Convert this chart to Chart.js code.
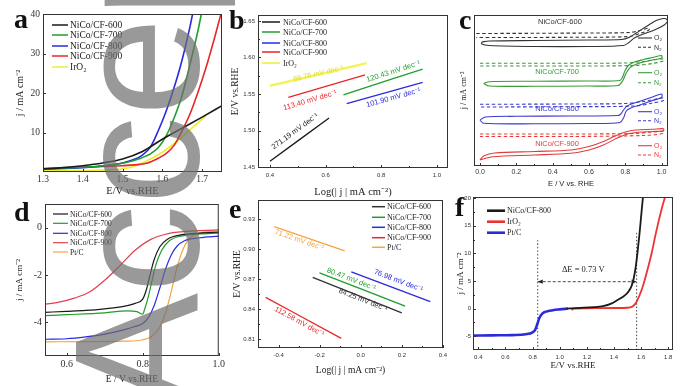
<!DOCTYPE html>
<html>
<head>
<meta charset="utf-8">
<title>NiCo/CF electrocatalysis</title>
<script src="https://cdn.jsdelivr.net/npm/chart.js@4.4.1/dist/chart.umd.min.js"></script>
<style>
  html, body { margin: 0; padding: 0; background: #fff; }
  #fig { position: relative; width: 692px; height: 386px; overflow: hidden; background: #fff; }
  #fig canvas { position: absolute; }
  .tag { position: absolute; font: bold 28px "Liberation Serif", "Times New Roman", serif; line-height: 1; color: #111; }
  #wm { left: 0; top: 0; pointer-events: none; }
</style>
</head>
<body>
<div id="fig">
  <canvas id="pa"></canvas>
  <canvas id="pb"></canvas>
  <canvas id="pc"></canvas>
  <canvas id="pd"></canvas>
  <canvas id="pe"></canvas>
  <canvas id="pf"></canvas>
  <div class="tag" style="left:14px;top:5px">a</div>
  <div class="tag" style="left:229px;top:6px">b</div>
  <div class="tag" style="left:459px;top:6px">c</div>
  <div class="tag" style="left:14px;top:198px">d</div>
  <div class="tag" style="left:229px;top:195px">e</div>
  <div class="tag" style="left:455px;top:193px">f</div>
  <canvas id="wm" width="692" height="386"></canvas>
</div>
<script>
const SERIF = '"Liberation Serif", "Times New Roman", serif';
const SANS = '"Liberation Sans", Arial, sans-serif';

const BLACK = "#1a1a1a";
const GREEN = "#1f9e2a";
const BLUE = "#2a2ae0";
const RED = "#e8262a";
const YELLOW = "#eeee30";
const ORANGE = "#f5a540";

// ---- a: OER polarization curves ----
const aNames = ["NiCo/CF-600", "NiCo/CF-700", "NiCo/CF-800", "NiCo/CF-900", "IrO₂"];
const a600x = [1.30, 1.35, 1.40, 1.45, 1.50, 1.55, 1.60, 1.65, 1.70, 1.75];
const a600y = [0.8, 1.1, 1.6, 2.3, 3.3, 5.2, 8.3, 11.1, 13.9, 16.8];
const a700x = [1.30, 1.40, 1.45, 1.50, 1.54, 1.57, 1.59, 1.61, 1.63, 1.65, 1.67, 1.69, 1.70];
const a700y = [0.8, 1.2, 1.6, 2.2, 3.3, 4.6, 6.2, 9.2, 13.8, 19.5, 27.5, 36, 41];
const a800x = [1.30, 1.40, 1.45, 1.50, 1.53, 1.55, 1.57, 1.59, 1.61, 1.63, 1.65, 1.67, 1.68];
const a800y = [0.7, 1.1, 1.5, 2.3, 3.2, 4.3, 6.3, 10.5, 15.5, 21.5, 28.5, 37, 42];
const a900x = [1.30, 1.40, 1.45, 1.50, 1.53, 1.56, 1.59, 1.61, 1.63, 1.65, 1.67, 1.69, 1.71, 1.73, 1.75];
const a900y = [0.9, 1.2, 1.4, 1.6, 1.8, 2.2, 3.5, 4.7, 6.8, 10.5, 14.8, 20.3, 26.5, 33.5, 41];
const aIrx = [1.30, 1.40, 1.45, 1.50, 1.53, 1.56, 1.60, 1.63, 1.66, 1.69, 1.71];
const aIry = [0.3, 0.35, 0.45, 0.8, 1.5, 2.8, 5.0, 7.2, 9.8, 12.5, 14.3];
const aTicksX = [1.3, 1.4, 1.5, 1.6, 1.7];
const aTicksY = [10, 20, 30, 40];

// ---- b: OER Tafel lines ----
const bX600 = [0.40, 0.6125], bY600 = [1.4582, 1.5173];
const bX700 = [0.664, 0.949], bY700 = [1.549, 1.584];
const bX800 = [0.676, 0.949], bY800 = [1.5368, 1.5658];
const bX900 = [0.466, 0.742], bY900 = [1.5454, 1.5763];
const bXIr = [0.40, 0.748], bYIr = [1.5613, 1.5922];
const bSlopes = ["271.19 mV dec⁻¹", "120.43 mV dec⁻¹", "101.90 mV dec⁻¹", "113.40 mV dec⁻¹", "88.78 mV dec⁻¹"];
const bSlopeX = [0.49, 0.8435, 0.8435, 0.544, 0.574];
const bSlopeY = [1.499, 1.5808, 1.545, 1.5413, 1.5777];
const bTicksX = [0.4, 0.6, 0.8, 1.0];
const bTicksY = [1.45, 1.50, 1.55, 1.60, 1.65];

// ---- c: CVs in O2 / N2 (arbitrary current, stacked) ----
const cNames = ["NiCo/CF-600", "NiCo/CF-700", "NiCo/CF-800", "NiCo/CF-900"];
const c600O2x = [0.01, 0.05, 0.3, 0.6, 0.78, 0.82, 0.86, 0.92, 0.97, 1.01, 1.03, 1.03, 1.01, 0.96, 0.9, 0.85, 0.82, 0.79, 0.6, 0.3, 0.05, 0.01, 0.01];
const c600O2y = [124, 125, 125.5, 126, 126.5, 128.5, 133, 140, 145.5, 147.5, 146.5, 144, 140.5, 136, 132, 128, 123.5, 120.5, 119.5, 119.5, 120.5, 122, 124];
const c600N2x = [-0.02, 0.3, 0.6, 0.82, 0.88, 0.93, 0.93, 0.88, 0.82, 0.5, 0.1, -0.02];
const c600N2y = [132.5, 132.7, 133, 133.5, 135.5, 138, 136, 132.5, 129.5, 128.7, 128.5, 128.5];
const c700O2x = [0.02, 0.05, 0.3, 0.6, 0.76, 0.785, 0.805, 0.83, 0.88, 0.95, 1.0, 1.0, 0.95, 0.9, 0.85, 0.82, 0.8, 0.785, 0.77, 0.6, 0.3, 0.05, 0.02];
const c700O2y = [82.5, 80, 79.7, 80, 80.5, 85, 93, 99, 103, 106, 108, 110.5, 108.5, 106.5, 104, 101, 96, 89, 85.5, 85, 84.7, 84.3, 82.5];
const c700N2x = [0.0, 0.4, 0.8, 0.9, 0.97, 1.01, 1.01, 0.95, 0.85, 0.5, 0.0];
const c700N2y = [102.7, 102.7, 103, 104.5, 106.5, 107, 105, 102.5, 100.5, 100, 100];
const c800O2x = [0.0, 0.02, 0.3, 0.6, 0.77, 0.79, 0.805, 0.83, 0.88, 0.95, 1.0, 1.0, 0.95, 0.9, 0.85, 0.81, 0.79, 0.775, 0.76, 0.5, 0.2, 0.03, 0.0];
const c800O2y = [46, 42.7, 42.2, 42.5, 43.5, 48, 55, 58, 61, 65.5, 68.5, 72, 69, 66, 63, 60, 56, 52, 50.5, 50, 49.7, 49, 46];
const c800N2x = [0.0, 0.5, 0.8, 0.9, 0.97, 1.01, 1.01, 0.95, 0.85, 0.5, 0.0];
const c800N2y = [61.7, 62, 62.5, 64.5, 67, 68, 65.5, 63, 60, 59.3, 59];
const c900O2x = [0.0, 0.07, 0.3, 0.5, 0.6, 0.68, 0.75, 0.81, 0.86, 0.95, 1.01, 1.01, 0.95, 0.86, 0.81, 0.75, 0.68, 0.6, 0.5, 0.3, 0.08, 0.02, 0.0];
const c900O2y = [6, 9.3, 11, 12.7, 16, 21, 27.5, 32, 33.5, 34.5, 35.3, 37.3, 36.7, 36, 34.5, 30.5, 24.5, 19.5, 16, 14.5, 13, 10, 6];
const c900N2x = [0.0, 0.5, 0.85, 0.95, 1.01, 1.01, 0.9, 0.5, 0.0];
const c900N2y = [32, 32, 32.5, 34, 34.5, 32.5, 30.5, 29.5, 29.5];
const cNameX = [0.44, 0.424, 0.424, 0.424];
const cNameY = [144, 94, 57, 22];
const cTicksX = [0.0, 0.2, 0.4, 0.6, 0.8, 1.0];

// ---- d: ORR polarization curves ----
const dNames = ["NiCo/CF-600", "NiCo/CF-700", "NiCo/CF-800", "NiCo/CF-900", "Pt/C"];
const d600x = [0.543, 0.60, 0.65, 0.70, 0.75, 0.78, 0.80, 0.81, 0.82, 0.83, 0.845, 0.865, 0.90, 0.95, 1.00];
const d600y = [-3.58, -3.54, -3.50, -3.43, -3.33, -3.20, -3.02, -2.60, -1.95, -1.35, -0.80, -0.48, -0.30, -0.22, -0.18];
const d700x = [0.543, 0.60, 0.70, 0.76, 0.785, 0.80, 0.805, 0.815, 0.825, 0.835, 0.85, 0.87, 0.90, 0.95, 1.00];
const d700y = [-3.72, -3.68, -3.60, -3.52, -3.55, -3.66, -3.45, -2.90, -2.20, -1.55, -0.95, -0.55, -0.35, -0.26, -0.22];
const d800x = [0.543, 0.60, 0.65, 0.70, 0.75, 0.78, 0.80, 0.815, 0.83, 0.845, 0.86, 0.875, 0.89, 0.91, 0.95, 1.00];
const d800y = [-4.72, -4.70, -4.62, -4.50, -4.32, -4.18, -4.05, -3.80, -3.30, -2.55, -1.75, -1.15, -0.78, -0.55, -0.42, -0.35];
const d900x = [0.543, 0.58, 0.62, 0.66, 0.70, 0.74, 0.78, 0.82, 0.86, 0.90, 0.95, 1.00];
const d900y = [-3.24, -3.15, -2.98, -2.72, -2.22, -1.60, -0.95, -0.50, -0.27, -0.17, -0.12, -0.08];
const dPtx = [0.543, 0.65, 0.75, 0.80, 0.825, 0.845, 0.86, 0.875, 0.89, 0.905, 0.92, 0.94, 0.97, 1.00];
const dPty = [-4.83, -4.82, -4.80, -4.74, -4.58, -4.20, -3.60, -2.70, -1.70, -0.95, -0.50, -0.27, -0.16, -0.12];
const dTicksX = [0.6, 0.8, 1.0];
const dTicksY = [-4, -2, 0];

// ---- e: ORR Tafel lines ----
const eX600 = [-0.234, 0.1995], eY600 = [0.8718, 0.8363];
const eX700 = [-0.201, 0.216], eY700 = [0.8764, 0.843];
const eX800 = [-0.046, 0.338], eY800 = [0.8774, 0.8474];
const eX900 = [-0.463, -0.095], eY900 = [0.8518, 0.8107];
const ePtx = [-0.421, -0.078], ePty = [0.9226, 0.8985];
const eSlopes = ["84.25 mV dec⁻¹", "80.47 mV dec⁻¹", "76.98 mV dec⁻¹", "112.58 mV dec⁻¹", "71.22 mV dec⁻¹"];
const eSlopeX = [0.011, -0.046, 0.183, -0.299, -0.299];
const eSlopeY = [0.8491, 0.8698, 0.8684, 0.8273, 0.9092];
const eTicksX = [-0.4, -0.2, 0.0, 0.2, 0.4];
const eTicksY = [0.81, 0.84, 0.87, 0.90, 0.93];

// ---- f: bifunctional OER/ORR ----
const fNames = ["NiCo/CF-800", "IrO₂", "Pt/C"];
const f800x = [1.05, 1.15, 1.25, 1.32, 1.38, 1.43, 1.48, 1.51, 1.53, 1.545, 1.56, 1.575, 1.59, 1.605, 1.615];
const f800y = [0.0, 0.12, 0.25, 0.45, 0.9, 1.6, 2.4, 3.2, 4.1, 5.4, 7.5, 10.5, 14.0, 18.0, 20.5];
const fIrx = [1.09, 1.10, 1.20, 1.30, 1.40, 1.50, 1.535, 1.555, 1.57, 1.59, 1.61, 1.64, 1.68, 1.71, 1.75, 1.78];
const fIry = [-0.3, 0.0, 0.05, 0.08, 0.10, 0.15, 0.35, 0.8, 1.4, 2.5, 3.8, 6.4, 10.3, 13.8, 17.9, 20.5];
const fPtx = [0.363, 0.50, 0.65, 0.75, 0.80, 0.82, 0.835, 0.85, 0.87, 0.90, 0.95, 1.00, 1.06];
const fPty = [-4.9, -4.85, -4.8, -4.65, -4.3, -3.8, -2.8, -1.7, -0.95, -0.55, -0.3, -0.15, 0.0];
const fDE = [0.838, 1.567];
const fDEtop = [12.4, 13.9];
const fArrowY = 4.87;
const fDEtext = "ΔE = 0.73 V", fDEtextX = 1.174, fDEtextY = 7.1;
const fTicksX = [0.4, 0.6, 0.8, 1.0, 1.2, 1.4, 1.6, 1.8];
const fTicksY = [-5, 0, 5, 10, 15, 20];

function pts(xs, ys) {
    return xs.map((x, i) => ({x: x, y: ys[i]}));
}

function line(xs, ys, color, w, extra) {
    return Object.assign({
        data: pts(xs, ys),
        showLine: true,
        borderColor: color,
        backgroundColor: color,
        borderWidth: w,
        pointRadius: 0,
        fill: false,
        tension: 0.4,
        cubicInterpolationMode: "monotone"
    }, extra || {});
}

// draws frame, inward ticks, legends, labels, arrows
const panelPlugin = {
    id: "panel",
    afterDatasetsDraw(chart, args, o) {
        const ctx = chart.ctx, ca = chart.chartArea;
        const sx = chart.scales.x, sy = chart.scales.y;
        const bx = o.box.x, by = o.box.y;
        ctx.save();
        ctx.strokeStyle = "#333";
        ctx.lineWidth = 1;
        ctx.beginPath();
        const tick = (s, v, len) => {
            const p = Math.round(s.getPixelForValue(v)) + 0.5;
            if (s.axis === "x") { ctx.moveTo(p, ca.bottom); ctx.lineTo(p, ca.bottom - len); }
            else { ctx.moveTo(ca.left, p); ctx.lineTo(ca.left + len, p); }
        };
        [sx, sy].forEach(s => {
            const vals = s.ticks.map(t => t.value);
            vals.forEach(v => tick(s, v, 3));
            if (o.minor) {
                for (let i = 0; i + 1 < vals.length; i++) tick(s, (vals[i] + vals[i + 1]) / 2, 2);
            }
        });
        ctx.stroke();
        ctx.strokeRect(ca.left + 0.5, ca.top + 0.5, ca.width - 1, ca.height - 1);

        (o.legends || []).forEach(L => {
            ctx.font = L.font;
            ctx.textBaseline = "middle";
            ctx.textAlign = "left";
            L.items.forEach((it, i) => {
                const y = L.ys[i] - by;
                ctx.strokeStyle = it.color;
                ctx.lineWidth = L.width || 1.5;
                ctx.setLineDash(it.dash || []);
                ctx.beginPath();
                ctx.moveTo(L.x1 - bx, y);
                ctx.lineTo(L.x2 - bx, y);
                ctx.stroke();
                ctx.setLineDash([]);
                ctx.fillStyle = L.colored ? it.color : "#222";
                ctx.fillText(it.text, L.tx - bx, y + 0.5);
            });
        });

        (o.labels || []).forEach(l => {
            let ang = 0;
            if (l.seg) {
                const s = l.seg;
                ang = Math.atan2(sy.getPixelForValue(s[3]) - sy.getPixelForValue(s[1]),
                    sx.getPixelForValue(s[2]) - sx.getPixelForValue(s[0]));
            }
            ctx.save();
            ctx.translate(sx.getPixelForValue(l.x), sy.getPixelForValue(l.y));
            ctx.rotate(ang);
            ctx.font = l.font;
            ctx.fillStyle = l.color;
            ctx.textAlign = "center";
            ctx.textBaseline = "middle";
            ctx.fillText(l.text, 0, 0);
            ctx.restore();
        });

        (o.arrows || []).forEach(a => {
            const y = sy.getPixelForValue(a.y);
            ctx.fillStyle = "#222";
            [[a.x1, 1], [a.x2, -1]].forEach(([xv, dir]) => {
                const x = sx.getPixelForValue(xv);
                ctx.beginPath();
                ctx.moveTo(x, y);
                ctx.lineTo(x + dir * 5, y - 2.2);
                ctx.lineTo(x + dir * 5, y + 2.2);
                ctx.closePath();
                ctx.fill();
            });
        });
        ctx.restore();
    }
};

function axis(a, dir, size) {
    return {
        type: "linear",
        min: a.min,
        max: a.max,
        grid: {display: false, drawTicks: false},
        border: {display: false},
        ticks: {
            display: a.ticks.length > 0,
            autoSkip: false,
            maxRotation: 0,
            padding: a.pad,
            color: "#333",
            font: a.font,
            callback: v => v.toFixed(a.dec)
        },
        title: {display: true, text: a.title, color: "#222", font: a.tfont, padding: a.tpad},
        afterBuildTicks: s => { s.ticks = a.ticks.map(v => ({value: v})); },
        afterFit: s => { if (dir === "x") s.height = size; else s.width = size; }
    };
}

function makePanel(id, box, area, o) {
    const cv = document.getElementById(id);
    cv.width = box.w;
    cv.height = box.h;
    cv.style.left = box.x + "px";
    cv.style.top = box.y + "px";
    cv.style.width = box.w + "px";
    cv.style.height = box.h + "px";
    return new Chart(cv, {
        type: "scatter",
        data: {datasets: o.datasets},
        options: {
            responsive: false,
            animation: false,
            devicePixelRatio: 1,
            events: [],
            layout: {padding: {left: 0, bottom: 0, top: area.t - box.y, right: box.x + box.w - area.r}},
            plugins: {
                legend: {display: false},
                tooltip: {enabled: false},
                panel: Object.assign({box: box}, o.extra)
            },
            scales: {
                x: axis(o.x, "x", box.y + box.h - area.b),
                y: axis(o.y, "y", area.l - box.x)
            }
        },
        plugins: [panelPlugin]
    });
}

const f = (size, fam) => ({family: fam, size: size, lineHeight: 1});

// a
makePanel("pa", {x: 0, y: 0, w: 230, h: 196}, {l: 43, t: 14, r: 222, b: 172}, {
    datasets: [
        line(a600x, a600y, BLACK, 1.6),
        line(a700x, a700y, GREEN, 1.6),
        line(a800x, a800y, BLUE, 1.6),
        line(a900x, a900y, RED, 1.6),
        line(aIrx, aIry, YELLOW, 1.8)
    ],
    x: {min: 1.3, max: 1.75, ticks: aTicksX, dec: 1, font: f(9.5, SERIF), pad: 3,
        title: "E/V vs.RHE", tfont: f(10.5, SERIF), tpad: {top: 0, bottom: 0}},
    y: {min: 0, max: 40, ticks: aTicksY, dec: 0, font: f(9.5, SERIF), pad: 3,
        title: "j / mA cm⁻²", tfont: f(10, SERIF), tpad: {top: 15, bottom: 0}},
    extra: {legends: [{x1: 52, x2: 68, tx: 70, ys: [25, 35, 46, 56, 67], font: "9.5px " + SERIF,
        items: [BLACK, GREEN, BLUE, RED, YELLOW].map((c, i) => ({text: aNames[i], color: c}))}]}
});

// b
makePanel("pb", {x: 228, y: 0, w: 228, h: 198}, {l: 258, t: 15, r: 448, b: 168}, {
    datasets: [
        line(bX600, bY600, BLACK, 1.3, {tension: 0}),
        line(bX700, bY700, GREEN, 1.3, {tension: 0}),
        line(bX800, bY800, BLUE, 1.3, {tension: 0}),
        line(bX900, bY900, RED, 1.3, {tension: 0}),
        line(bXIr, bYIr, "#f3f35a", 2.4, {tension: 0})
    ],
    x: {min: 0.357, max: 1.04, ticks: bTicksX, dec: 1, font: f(6, SANS), pad: 4,
        title: "Log(| j | mA cm⁻²)", tfont: f(10.5, SERIF), tpad: {top: 0, bottom: 0.5}},
    y: {min: 1.449, max: 1.658, ticks: bTicksY, dec: 2, font: f(6, SANS), pad: 3,
        title: "E/V vs.RHE", tfont: f(9.5, SERIF), tpad: {top: 2.75, bottom: 0}},
    extra: {
        minor: true,
        legends: [{x1: 262, x2: 280, tx: 283, ys: [22, 32, 43, 52, 63], font: "8px " + SERIF,
            items: [BLACK, GREEN, BLUE, RED, YELLOW].map((c, i) => ({text: aNames[i], color: c}))}],
        labels: [
            {x: bSlopeX[0], y: bSlopeY[0], text: bSlopes[0], color: BLACK, font: "7.5px " + SANS, seg: [bX600[0], bY600[0], bX600[1], bY600[1]]},
            {x: bSlopeX[1], y: bSlopeY[1], text: bSlopes[1], color: GREEN, font: "7.5px " + SANS, seg: [bX700[0], bY700[0], bX700[1], bY700[1]]},
            {x: bSlopeX[2], y: bSlopeY[2], text: bSlopes[2], color: BLUE, font: "7.5px " + SANS, seg: [bX800[0], bY800[0], bX800[1], bY800[1]]},
            {x: bSlopeX[3], y: bSlopeY[3], text: bSlopes[3], color: RED, font: "7.5px " + SANS, seg: [bX900[0], bY900[0], bX900[1], bY900[1]]},
            {x: bSlopeX[4], y: bSlopeY[4], text: bSlopes[4], color: "#e0e030", font: "7.5px " + SANS, seg: [bXIr[0], bYIr[0], bXIr[1], bYIr[1]]}
        ]
    }
});

// c
const CB = "#333333", CG = "#3a9a3a", CBL = "#3a3acc", CR = "#e03c3c";
const dash = [3.5, 2.5];
makePanel("pc", {x: 456, y: 0, w: 236, h: 190}, {l: 474, t: 15, r: 668, b: 166}, {
    datasets: [
        line(c600O2x, c600O2y, CB, 1.1, {tension: 0.3, cubicInterpolationMode: "default"}),
        line(c600N2x, c600N2y, CB, 1.1, {tension: 0.3, cubicInterpolationMode: "default", borderDash: dash}),
        line(c700O2x, c700O2y, CG, 1.1, {tension: 0.3, cubicInterpolationMode: "default"}),
        line(c700N2x, c700N2y, CG, 1.1, {tension: 0.3, cubicInterpolationMode: "default", borderDash: dash}),
        line(c800O2x, c800O2y, CBL, 1.1, {tension: 0.3, cubicInterpolationMode: "default"}),
        line(c800N2x, c800N2y, CBL, 1.1, {tension: 0.3, cubicInterpolationMode: "default", borderDash: dash}),
        line(c900O2x, c900O2y, CR, 1.1, {tension: 0.3, cubicInterpolationMode: "default"}),
        line(c900N2x, c900N2y, CR, 1.1, {tension: 0.3, cubicInterpolationMode: "default", borderDash: dash})
    ],
    x: {min: -0.033, max: 1.035, ticks: cTicksX, dec: 1, font: f(7, SANS), pad: 3,
        title: "E / V vs. RHE", tfont: f(7.5, SANS), tpad: {top: 0, bottom: 2.25}},
    y: {min: 0, max: 151, ticks: [], dec: 0, font: f(7, SANS), pad: 2,
        title: "j / mA cm⁻²", tfont: f(8, SERIF), tpad: {top: 4, bottom: 0}},
    extra: {
        minor: true,
        legends: [{x1: 638, x2: 652, tx: 654, ys: [38, 47.3, 72.7, 82.7, 111.7, 120.7, 145.7, 155], font: "7px " + SANS,
            width: 1.1, colored: true,
            items: [CB, CG, CBL, CR].flatMap(c => [{text: "O₂", color: c}, {text: "N₂", color: c, dash: [3, 2]}])}],
        labels: [CB, CG, CBL, CR].map((c, i) => ({x: cNameX[i], y: cNameY[i], text: cNames[i], color: c, font: "7.5px " + SANS}))
    }
});

// d
const DR = "#e0404f";
makePanel("pd", {x: 0, y: 196, w: 228, h: 190}, {l: 45, t: 203, r: 223, b: 356}, {
    datasets: [
        line(d600x, d600y, BLACK, 1.2),
        line(d700x, d700y, GREEN, 1.2),
        line(d800x, d800y, BLUE, 1.2),
        line(d900x, d900y, DR, 1.2),
        line(dPtx, dPty, ORANGE, 1.2)
    ],
    x: {min: 0.543, max: 1.0, ticks: dTicksX, dec: 1, font: f(10, SERIF), pad: 3,
        title: "E / V vs.RHE", tfont: f(9.5, SERIF), tpad: {top: 0, bottom: 2.25}},
    y: {min: -5.43, max: 1.01, ticks: dTicksY, dec: 0, font: f(10, SERIF), pad: 3,
        title: "j / mA cm⁻²", tfont: f(9, SERIF), tpad: {top: 15.5, bottom: 0}},
    extra: {legends: [{x1: 53, x2: 68, tx: 70, ys: [214, 223.3, 233.3, 242.7, 252], font: "7.6px " + SERIF, width: 1.2,
        items: [BLACK, GREEN, BLUE, DR, ORANGE].map((c, i) => ({text: dNames[i], color: c}))}]}
});

// e
makePanel("pe", {x: 228, y: 192, w: 228, h: 194}, {l: 258, t: 200, r: 443, b: 348}, {
    datasets: [
        line(eX600, eY600, "#333", 1.3, {tension: 0}),
        line(eX700, eY700, GREEN, 1.3, {tension: 0}),
        line(eX800, eY800, BLUE, 1.3, {tension: 0}),
        line(eX900, eY900, RED, 1.3, {tension: 0}),
        line(ePtx, ePty, ORANGE, 1.3, {tension: 0})
    ],
    x: {min: -0.5, max: 0.4, ticks: eTicksX, dec: 1, font: f(6, SANS), pad: 4,
        title: "Log(| j | mA cm⁻²)", tfont: f(9.5, SERIF), tpad: {top: 0, bottom: 11.25}},
    y: {min: 0.801, max: 0.9494, ticks: eTicksY, dec: 2, font: f(6, SANS), pad: 3,
        title: "E/V vs.RHE", tfont: f(9.5, SERIF), tpad: {top: 4.25, bottom: 0}},
    extra: {
        minor: true,
        legends: [{x1: 372, x2: 385, tx: 387, ys: [206.7, 217.3, 227.3, 237.7, 247.3], font: "8px " + SERIF,
            items: ["#333", GREEN, BLUE, RED, ORANGE].map((c, i) => ({text: dNames[i], color: c}))}],
        labels: [
            {x: eSlopeX[0], y: eSlopeY[0], text: eSlopes[0], color: "#333", font: "7.5px " + SANS, seg: [eX600[0], eY600[0], eX600[1], eY600[1]]},
            {x: eSlopeX[1], y: eSlopeY[1], text: eSlopes[1], color: GREEN, font: "7.5px " + SANS, seg: [eX700[0], eY700[0], eX700[1], eY700[1]]},
            {x: eSlopeX[2], y: eSlopeY[2], text: eSlopes[2], color: BLUE, font: "7.5px " + SANS, seg: [eX800[0], eY800[0], eX800[1], eY800[1]]},
            {x: eSlopeX[3], y: eSlopeY[3], text: eSlopes[3], color: RED, font: "7.5px " + SANS, seg: [eX900[0], eY900[0], eX900[1], eY900[1]]},
            {x: eSlopeX[4], y: eSlopeY[4], text: eSlopes[4], color: ORANGE, font: "7.5px " + SANS, seg: [ePtx[0], ePty[0], ePtx[1], ePty[1]]}
        ]
    }
});

// f
const FB = "#2b2bd8", FR = "#ee3333";
makePanel("pf", {x: 456, y: 192, w: 236, h: 194}, {l: 473, t: 197, r: 673, b: 350}, {
    datasets: [
        line(f800x, f800y, BLACK, 1.8),
        line(fIrx, fIry, FR, 1.8),
        line(fPtx, fPty, FB, 2.6),
        line([fDE[0], fDE[0]], [-7.5, fDEtop[0]], "#444", 1, {tension: 0, borderDash: [1.5, 2]}),
        line([fDE[1], fDE[1]], [-7.5, fDEtop[1]], "#444", 1, {tension: 0, borderDash: [1.5, 2]}),
        line(fDE, [fArrowY, fArrowY], "#333", 0.9, {tension: 0, borderDash: [3, 2]})
    ],
    x: {min: 0.361, max: 1.835, ticks: fTicksX, dec: 1, font: f(6, SANS), pad: 4,
        title: "E/V vs.RHE", tfont: f(9, SERIF), tpad: {top: 0, bottom: 15.5}},
    y: {min: -7.5, max: 20.2, ticks: fTicksY, dec: 0, font: f(6, SANS), pad: 2,
        title: "j / mA cm⁻²", tfont: f(9, SERIF), tpad: {top: 0, bottom: 0}},
    extra: {
        minor: true,
        legends: [{x1: 487, x2: 505, tx: 507, ys: [210.7, 221.7, 232.7], font: "8px " + SERIF, width: 2.6,
            items: [BLACK, FR, FB].map((c, i) => ({text: fNames[i], color: c}))}],
        labels: [{x: fDEtextX, y: fDEtextY, text: fDEtext, color: "#222", font: "8.5px " + SERIF}],
        arrows: [{x1: fDE[0], x2: fDE[1], y: fArrowY}]
    }
});

// journal watermark on top
const wm = document.getElementById("wm").getContext("2d");
wm.save();
wm.translate(198, 411);
wm.rotate(-Math.PI / 2);
wm.font = '177px "Liberation Sans", Arial, sans-serif';
wm.fillStyle = "rgba(110,110,110,0.7)";
wm.fillText("Accepted", 0, 0);
wm.restore();
</script>
</body>
</html>
